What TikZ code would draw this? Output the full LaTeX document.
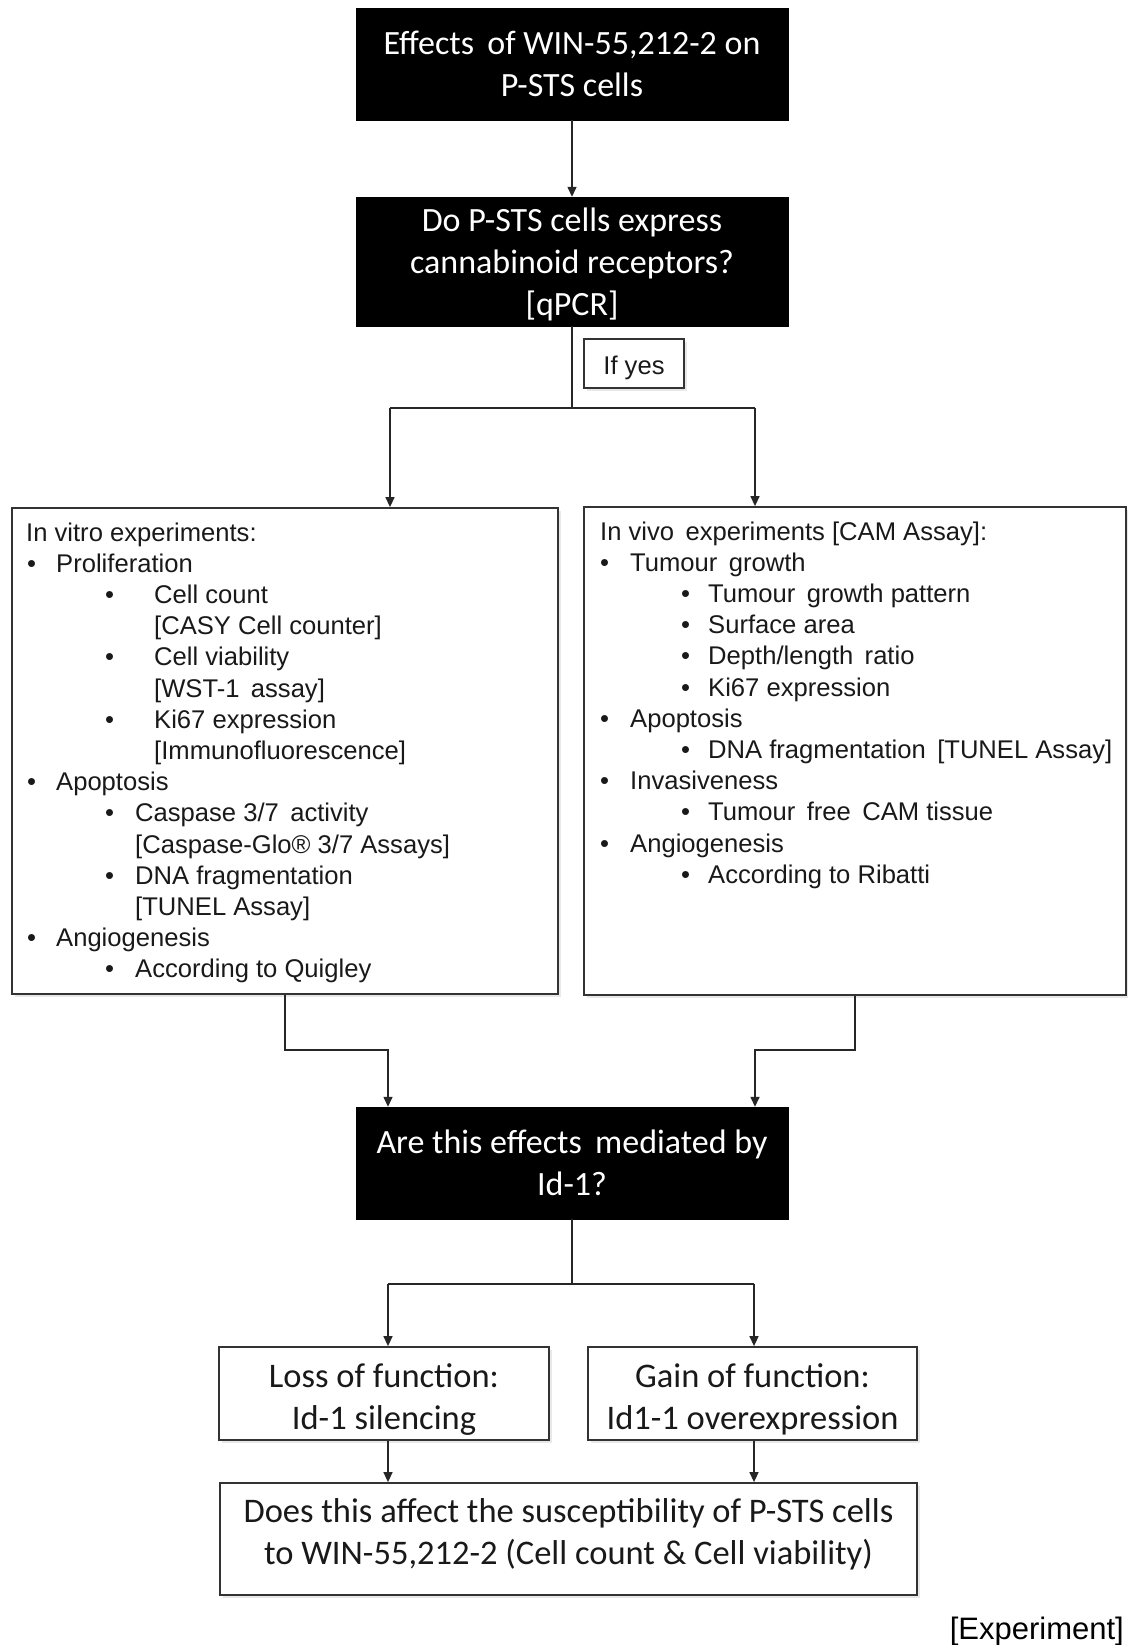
\documentclass[tikz,border=0pt]{standalone}
\usepackage{fontspec}
\setmainfont{Liberation Sans}
\newfontfamily\calibri{Carlito}
\usetikzlibrary{arrows.meta,shadows}
% multi-line centred text drawn #1 higher, keeping its nominal size
\newcommand\movedtext[2]{\raisebox{#1}[\height][\depth]{\begin{tabular}{@{}c@{}}#2\end{tabular}}}
\begin{document}
\begin{tikzpicture}[x=1pt,y=-1pt,
  darkbox/.style={fill=black, draw=black, text=white,
    font=\calibri\fontsize{34}{42}\selectfont, align=center,
    inner sep=0pt, minimum width=432pt},
  lightbox/.style={fill=white, draw=black!80, line width=1.8pt, text=black!90,
    font=\calibri\fontsize{34.5}{42}\selectfont, align=center, inner sep=0pt,
    drop shadow={shadow xshift=3pt, shadow yshift=-3pt, opacity=0.18}},
  listbox/.style={fill=white, draw=black!80, line width=1.8pt, inner sep=0pt,
    drop shadow={shadow xshift=3pt, shadow yshift=-3pt, opacity=0.18}},
  item/.style={anchor=base west, inner sep=0pt, text=black!90,
    font=\fontsize{25.6}{30}\selectfont},
  link/.style={line width=1.4pt, draw=black!85},
  arr/.style={link, -{Triangle[length=10pt,width=9pt]}}
]
\useasboundingbox[fill=white] (0,0) rectangle (1127,1645);

% question boxes
\node[darkbox, minimum height=112pt] (q0) at (572,64)
  {Effects \,of WIN-55,212-2 on\\P-STS cells};
\node[darkbox, minimum height=129pt] (q1) at (572,261.5)
  {\movedtext{-4pt}{Do P-STS cells express\\cannabinoid receptors?\\{[qPCR]}}};
\node[lightbox, font=\fontsize{25.6}{30}\selectfont, minimum width=100pt,
  minimum height=49pt] (yes) at (634,363.5) {\raisebox{-4pt}[\height][\depth]{If yes}};

% experiment boxes
\node[listbox, minimum width=546pt, minimum height=486pt] (invitro) at (285,751) {};
\node[listbox, minimum width=542pt, minimum height=488pt] (invivo) at (855,751) {};

\foreach \x/\t [count=\i from 0] in {
  26/{In vitro experiments:},
  56/Proliferation,
  154/Cell count,
  154/{[CASY Cell counter]},
  154/Cell viability,
  154/{[WST-1 \,assay]},
  154/Ki67 expression,
  154/{[Immunofluorescence]},
  56/Apoptosis,
  135/{Caspase 3/7 \,activity},
  135/{[Caspase-Glo® 3/7 Assays]},
  135/DNA fragmentation,
  135/{[TUNEL Assay]},
  56/Angiogenesis,
  135/According to Quigley}
  \node[item] (vt\i) at (\x,{541+31.2*\i}) {\t};
\foreach \x/\i in {27/1,27/8,27/13,105/2,105/4,105/6,105/9,105/11,105/14}
  \node[item] (vtb\i) at (\x,{541+31.2*\i}) {\textbullet};

\foreach \x/\t [count=\i from 0] in {
  600/{In vivo \,experiments [CAM Assay]:},
  630/{Tumour \,growth},
  708/{Tumour \,growth pattern},
  708/Surface area,
  708/{Depth/length \,ratio},
  708/Ki67 expression,
  630/Apoptosis,
  708/{DNA fragmentation \,[TUNEL Assay]},
  630/Invasiveness,
  708/{Tumour \,free \,CAM tissue},
  630/Angiogenesis,
  708/According to Ribatti}
  \node[item] (vv\i) at (\x,{540+31.2*\i}) {\t};
\foreach \x/\i in {600/1,600/6,600/8,600/10,681/2,681/3,681/4,681/5,681/7,681/9,681/11}
  \node[item] (vvb\i) at (\x,{540+31.2*\i}) {\textbullet};

\node[darkbox, minimum height=112pt] (q2) at (572,1163)
  {Are this effects \,mediated by\\Id-1?};

% functional studies
\node[lightbox, minimum width=330pt, minimum height=93pt] (loss) at (384,1393.5)
  {\movedtext{-7pt}{Loss of function:\\Id-1 silencing}};
\node[lightbox, minimum width=329pt, minimum height=93pt] (gain) at (752.5,1393.5)
  {\movedtext{-7pt}{Gain of function:\\Id1-1 overexpression}};
\node[lightbox, minimum width=697pt, minimum height=112pt] (final) at (568.5,1539)
  {\movedtext{4pt}{Does this affect the susceptibility of P-STS cells\\to WIN-55,212-2 (Cell count \& Cell viability)}};

\node[anchor=base east, inner sep=0pt, font=\fontsize{31}{36}\selectfont]
  (tag) at (1124,1639) {[Experiment]};

% connectors
\draw[arr] (q0.south) -- (q1.north);
\coordinate (j1) at (572,408);
\coordinate (s1) at (390,408);
\coordinate (s2) at (755,408);
\draw[link] (q1.south) -- (j1);
\draw[link] (s1) -- (s2);
\draw[arr] (s1) -- (s1 |- invitro.north);
\draw[arr] (s2) -- (s2 |- invivo.north);

\coordinate (m1) at (388,1050);
\coordinate (m2) at (755,1050);
\draw[arr] (invitro.south) |- (m1) -- (m1 |- q2.north);
\draw[arr] (invivo.south) |- (m2) -- (m2 |- q2.north);

\coordinate (j2) at (572,1284);
\coordinate (b1) at (388,1284);
\coordinate (b2) at (754,1284);
\draw[link] (q2.south) -- (j2);
\draw[link] (b1) -- (b2);
\draw[arr] (b1) -- (b1 |- loss.north);
\draw[arr] (b2) -- (b2 |- gain.north);
\draw[arr] (b1 |- loss.south) -- (b1 |- final.north);
\draw[arr] (b2 |- gain.south) -- (b2 |- final.north);
\end{tikzpicture}
\end{document}
